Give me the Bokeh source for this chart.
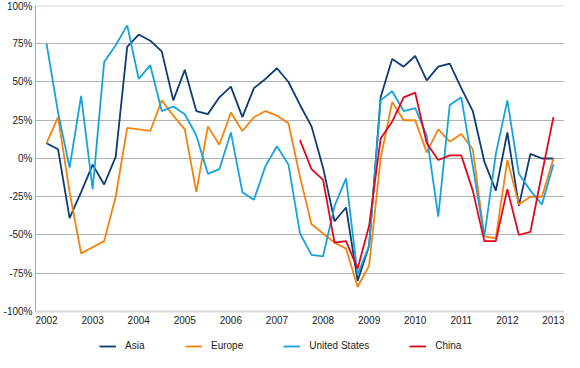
from bokeh.plotting import figure
from bokeh.models import (FixedTicker, PrintfTickFormatter, Span, Legend, LegendItem)
from bokeh.embed import file_html
from bokeh.resources import INLINE

# Quarterly time index, 2002 Q1 .. 2013 Q1
quarters = [2002 + i / 4 for i in range(45)]
year_ticks = list(range(2002, 2014))
pct_ticks = [-100, -75, -50, -25, 0, 25, 50, 75, 100]

asia = [10, 6, -39, -22, -4, -17, 1, 73, 81, 77, 70, 38, 58, 31, 29, 40, 47, 27, 46, 52,
        59, 50, 35, 21, -6, -41, -32, -80, -57, 40, 65, 60, 67, 51, 60, 62, 46, 31, -2, -21,
        17, -31, 3, 0, 0]
europe = [10, 27, -22, -62, -58, -54, -25, 20, 19, 18, 38, 28, 19, -22, 21, 9, 30, 18, 27, 31,
          28, 23, -12, -43, -49, -55, -59, -84, -70, 0, 37, 25, 25, 4, 19, 11, 16, 6, -51, -52,
          -1, -30, -25, -25, 0]
united_states = [75, 30, -6, 41, -20, 63, 74, 87, 52, 61, 31, 34, 29, 15, -10, -7, 17, -22, -27, -5,
                 8, -4, -49, -63, -64, -31, -13, -76, -57, 38, 44, 31, 33, 15, -38, 35, 40, -5, -51, 3,
                 38, -10, -21, -30, -4]
china_start = 22
china = [12, -7, -14, -55, -54, -72, -44, 13, 24, 40, 43, 10, -1, 2, 2, -21, -54, -54, -20, -50,
         -48, -10, 27]

FONT = "Liberation Sans"

# the frame extends below -100% to leave room for the x labels and the legend
p = figure(width=564, height=352, x_range=(2001.76, 2013.24), y_range=(-126.8, 100),
           output_backend="svg", toolbar_location=None,
           min_border_top=5, min_border_right=0, min_border_left=0, min_border_bottom=0)
p.outline_line_color = None
p.background_fill_color = "white"

# axes
p.yaxis.ticker = FixedTicker(ticks=pct_ticks)
p.yaxis.formatter = PrintfTickFormatter(format="%d%%")
p.yaxis.bounds = (-100, 100)
p.xaxis.ticker = FixedTicker(ticks=year_ticks)
p.xaxis.fixed_location = -100
for ax in (p.xaxis, p.yaxis):
    ax.major_tick_line_color = None
    ax.minor_tick_line_color = None
    ax.major_tick_out = 0
    ax.major_tick_in = 0
    ax.minor_tick_out = 0
    ax.major_label_text_font = FONT
    ax.major_label_text_font_size = "10px"
    ax.major_label_text_color = "#222222"
    ax.major_label_standoff = 3
p.xaxis.major_label_standoff = 5
p.yaxis.axis_line_color = "#a6a6a6"
p.xaxis.axis_line_color = "#d9d9d9"
p.xaxis.axis_line_width = 2

# grid
p.xgrid.grid_line_color = None
p.ygrid.ticker = FixedTicker(ticks=[-75, -50, -25, 0, 25, 50, 75])
p.ygrid.grid_line_color = "#b3b3b3"
p.ygrid.grid_line_width = 1
p.add_layout(Span(location=100, dimension="width", line_color="#d9d9d9", line_width=2))

r_asia = p.line(quarters, asia, line_color="#0d3b74", line_width=1.8)
r_eu = p.line(quarters, europe, line_color="#f5820f", line_width=1.8)
r_us = p.line(quarters, united_states, line_color="#15a3de", line_width=1.8)
r_cn = p.line(quarters[china_start:], china, line_color="#e2071b", line_width=1.8)

legend = Legend(items=[LegendItem(label="Asia", renderers=[r_asia]),
                       LegendItem(label="Europe", renderers=[r_eu]),
                       LegendItem(label="United States", renderers=[r_us]),
                       LegendItem(label="China", renderers=[r_cn])],
                orientation="horizontal", location=(64, 1), spacing=40,
                glyph_width=17, glyph_height=10, label_standoff=9, label_height=10,
                label_text_font=FONT, label_text_font_size="10px", label_text_color="#222222",
                border_line_color=None, background_fill_alpha=0, padding=0, margin=0)
p.add_layout(legend, "center")

open("out.html", "w").write(file_html(p, INLINE))
